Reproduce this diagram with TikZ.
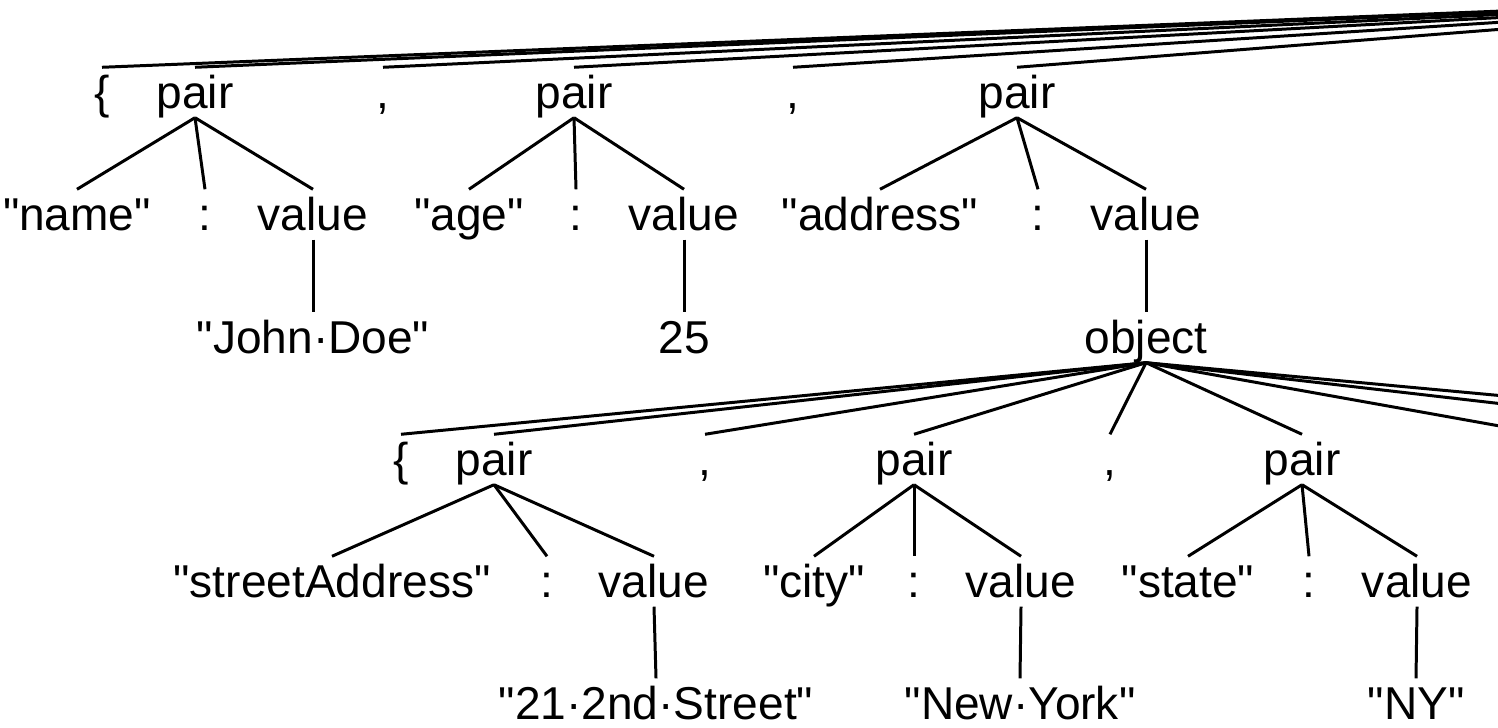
\documentclass[tikz,border=0pt]{standalone}
\usepackage{fontspec}
\setmainfont{Liberation Sans}[Ligatures=TeXOff]
\usepackage{tikz}

\begin{document}
\begin{tikzpicture}[x=0.01cm,y=-0.01cm,
		sym/.style={font=\fontsize{13.1pt}{15pt}\selectfont, text height=0.40cm, text depth=0.09cm, inner xsep=1pt, inner ysep=0pt, anchor=base},
		branch/.style={line width=0.85pt, black}]
			%\draw[help lines] (0,0) grid[step=100] (1498,727);
			\useasboundingbox (0,0) rectangle (1498,727);
			\clip (0,0) rectangle (1498,727);

				% free ends of the branches that leave the picture
				\coordinate (root) at (1975,-8);
				\coordinate (comF) at (1550,435);
				\coordinate (pairG) at (1772,435);
				\coordinate (rbD) at (1925,435);

				\node[sym] (lbA) at (102,108) {\{};
				\node[sym] (pairA) at (195,108) {pair};
				\node[sym] (comA) at (383,108) {,};
				\node[sym] (pairB) at (574,108) {pair};
				\node[sym] (comB) at (793,108) {,};
				\node[sym] (pairC) at (1017,108) {pair};

				\node[sym] (nameK) at (77,230) {"name"};
				\node[sym] (colA) at (205,230) {:};
				\node[sym] (valA) at (313,230) {value};
				\node[sym] (ageK) at (469,230) {"age"};
				\node[sym] (colB) at (576,230) {:};
				\node[sym] (valB) at (684,230) {value};
				\node[sym] (addrK) at (880,230) {"address"};
				\node[sym] (colC) at (1038,230) {:};
				\node[sym] (valC) at (1146,230) {value};

				\node[sym] (john) at (313,353) {"John·Doe"};
				\node[sym] (age) at (684,353) {25};
				\node[sym] (obj) at (1146,353) {object};

				\node[sym] (lbD) at (401,475) {\{};
				\node[sym] (pairD) at (494,475) {pair};
				\node[sym] (comD) at (705,475) {,};
				\node[sym] (pairE) at (914,475) {pair};
				\node[sym] (comE) at (1110,475) {,};
				\node[sym] (pairF) at (1302,475) {pair};

				\node[sym] (streetK) at (332,597) {"streetAddress"};
				\node[sym] (colD) at (547,597) {:};
				\node[sym] (valD) at (654,597) {value};
				\node[sym] (cityK) at (814,597) {"city"};
				\node[sym] (colE) at (914,597) {:};
				\node[sym] (valE) at (1021,597) {value};
				\node[sym] (stateK) at (1188,597) {"state"};
				\node[sym] (colF) at (1309,597) {:};
				\node[sym] (valF) at (1417,597) {value};

				\node[sym] (street) at (656,719) {"21·2nd·Street"};
				\node[sym] (city) at (1020,719) {"New·York"};
				\node[sym] (state) at (1416,719) {"NY"};

				\draw[branch] (root) -- (lbA.north);
				\draw[branch] (root) -- (pairA.north);
				\draw[branch] (root) -- (comA.north);
				\draw[branch] (root) -- (pairB.north);
				\draw[branch] (root) -- (comB.north);
				\draw[branch] (root) -- (pairC.north);

				\draw[branch] (pairA.south) -- (nameK.north);
				\draw[branch] (pairA.south) -- (colA.north);
				\draw[branch] (pairA.south) -- (valA.north);
				\draw[branch] (pairB.south) -- (ageK.north);
				\draw[branch] (pairB.south) -- (colB.north);
				\draw[branch] (pairB.south) -- (valB.north);
				\draw[branch] (pairC.south) -- (addrK.north);
				\draw[branch] (pairC.south) -- (colC.north);
				\draw[branch] (pairC.south) -- (valC.north);

				\draw[branch] (valA.south) -- (john.north);
				\draw[branch] (valB.south) -- (age.north);
				\draw[branch] (valC.south) -- (obj.north);

				\draw[branch] (obj.south) -- (lbD.north);
				\draw[branch] (obj.south) -- (pairD.north);
				\draw[branch] (obj.south) -- (comD.north);
				\draw[branch] (obj.south) -- (pairE.north);
				\draw[branch] (obj.south) -- (comE.north);
				\draw[branch] (obj.south) -- (pairF.north);
				\draw[branch] (obj.south) -- (comF);
				\draw[branch] (obj.south) -- (pairG);
				\draw[branch] (obj.south) -- (rbD);

				\draw[branch] (pairD.south) -- (streetK.north);
				\draw[branch] (pairD.south) -- (colD.north);
				\draw[branch] (pairD.south) -- (valD.north);
				\draw[branch] (pairE.south) -- (cityK.north);
				\draw[branch] (pairE.south) -- (colE.north);
				\draw[branch] (pairE.south) -- (valE.north);
				\draw[branch] (pairF.south) -- (stateK.north);
				\draw[branch] (pairF.south) -- (colF.north);
				\draw[branch] (pairF.south) -- (valF.north);

				\draw[branch] (valD.south) -- (street.north);
				\draw[branch] (valE.south) -- (city.north);
				\draw[branch] (valF.south) -- (state.north);

			\end{tikzpicture}
\end{document}
